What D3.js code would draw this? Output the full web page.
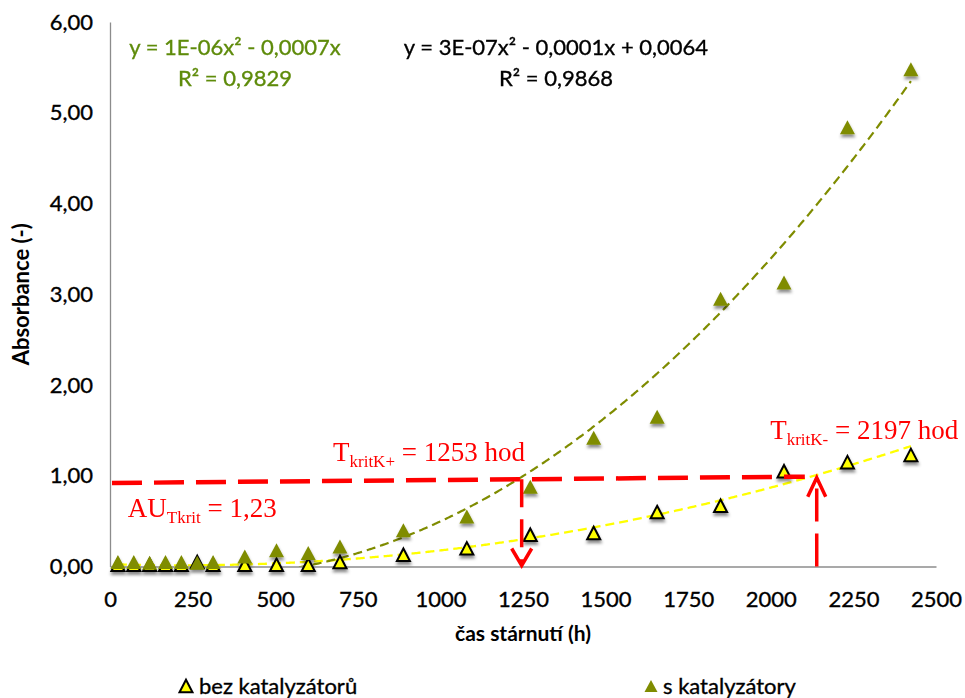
<!DOCTYPE html>
<html>
<head>
<meta charset="utf-8">
<script src="https://cdn.jsdelivr.net/npm/d3@7/dist/d3.min.js"></script>
<style>
  body { margin: 0; background: #fff; }
  svg text { font-family: Lato, "Open Sans", sans-serif; }
  svg text.sans { stroke-width: 0.35px; paint-order: stroke; }
</style>
</head>
<body>
<svg id="chart" width="965" height="698"></svg>
<script>
// Ageing time (h) and absorbance for the two sample sets
const hours = [24, 72, 120, 168, 216, 264, 312, 408, 504, 600, 696, 888, 1080, 1272, 1464, 1656, 1848, 2040, 2232, 2424];
const absBez = [0.02, 0.02, 0.02, 0.02, 0.02, 0.05, 0.02, 0.02, 0.02, 0.02, 0.05, 0.13, 0.20, 0.35, 0.37, 0.60, 0.67, 1.05, 1.15, 1.23];
const absS = [0.05, 0.05, 0.04, 0.05, 0.05, 0.04, 0.05, 0.11, 0.18, 0.15, 0.22, 0.40, 0.55, 0.88, 1.42, 1.65, 2.95, 3.13, 4.84, 5.48];
const seriesNames = ["bez katalyzátorů", "s katalyzátory"];

const xTicks = [0, 250, 500, 750, 1000, 1250, 1500, 1750, 2000, 2250, 2500];
const yTicks = [0, 1, 2, 3, 4, 5, 6];

// Trendline labels as printed on the chart
const eqS = ["y = 1E-06x² - 0,0007x", "R² = 0,9829"];
const eqBez = ["y = 3E-07x² - 0,0001x + 0,0064", "R² = 0,9868"];

// Critical-level annotation: dashed level line (start/end hours and absorbance), arrow times
const critLineHours = [6, 2103];
const critLineLevel = [0.92, 0.99];
const critArrowHours = [1246, 2139];
const critTexts = [
  { main: "T", sub: "kritK+", rest: " = 1253 hod", h: 675, v: 1.16 },
  { main: "T", sub: "kritK-", rest: " = 2197 hod", h: 1998, v: 1.40 },
  { main: "AU", sub: "Tkrit", rest: " = 1,23", h: 54, v: 0.55 }
];

const colBez = "#ffff00";
const colS = "#7f8c00";
const colEqS = "#5e8b0a";
const red = "#ff0000";
const axisGrey = "#8c8c8c";

const svg = d3.select("#chart");
const x = d3.scaleLinear().domain([0, 2500]).range([110, 936]);
const y = d3.scaleLinear().domain([0, 6]).range([566.5, 22]);

const loc = d3.formatLocale({ decimal: ",", thousands: "", grouping: [3], currency: ["", ""] });
const fmtY = loc.format(".2f");

// drop shadow for markers
const defs = svg.append("defs");
const f = defs.append("filter").attr("id", "shadow")
  .attr("x", "-50%").attr("y", "-50%").attr("width", "200%").attr("height", "220%");
f.append("feDropShadow").attr("dx", 0.5).attr("dy", 3).attr("stdDeviation", 1.6)
  .attr("flood-color", "#000").attr("flood-opacity", 0.45);
defs.append("clipPath").attr("id", "plotClip").append("rect")
  .attr("x", x(0)).attr("y", y(6)).attr("width", x(2500) - x(0)).attr("height", y(0) - y(6));

// axes
const yAxis = d3.axisLeft(y).tickValues(yTicks).tickSize(0).tickPadding(17).tickFormat(fmtY);
const xAxis = d3.axisBottom(x).tickValues(xTicks).tickSize(0).tickPadding(25).tickFormat(d3.format("d"));

const gy = svg.append("g").attr("transform", `translate(${x(0)},0)`).call(yAxis);
const gx = svg.append("g").attr("transform", `translate(0,${y(0)})`).call(xAxis);
[gx, gy].forEach(g => {
  g.select(".domain").attr("stroke", axisGrey).attr("stroke-width", 1.3);
  g.selectAll("text").attr("class", "sans").attr("font-size", 22)
    .attr("fill", "#000").attr("stroke", "#000").attr("font-family", "Lato");
});

// axis titles
svg.append("text")
  .attr("transform", `translate(29,${(y(0) + y(6)) / 2}) rotate(-90)`)
  .attr("text-anchor", "middle").attr("font-weight", "bold").attr("font-size", 22)
  .text("Absorbance (-)");
svg.append("text")
  .attr("x", 523).attr("y", 641)
  .attr("text-anchor", "middle").attr("font-weight", "bold").attr("font-size", 21)
  .text("čas stárnutí (h)");

// least-squares polynomial fit with the given powers of x
function polyFit(xs, ys, powers) {
  const n = powers.length;
  const A = powers.map(pi => powers.map(pj => d3.sum(xs, xv => Math.pow(xv / 1000, pi + pj))));
  const B = powers.map(pi => d3.sum(xs, (xv, k) => ys[k] * Math.pow(xv / 1000, pi)));
  for (let i = 0; i < n; i++) {
    let p = i;
    for (let r = i + 1; r < n; r++) if (Math.abs(A[r][i]) > Math.abs(A[p][i])) p = r;
    [A[i], A[p]] = [A[p], A[i]]; [B[i], B[p]] = [B[p], B[i]];
    for (let r = i + 1; r < n; r++) {
      const m = A[r][i] / A[i][i];
      for (let c = i; c < n; c++) A[r][c] -= m * A[i][c];
      B[r] -= m * B[i];
    }
  }
  const c = new Array(n).fill(0);
  for (let i = n - 1; i >= 0; i--) {
    let s = B[i];
    for (let j = i + 1; j < n; j++) s -= A[i][j] * c[j];
    c[i] = s / A[i][i];
  }
  return xv => d3.sum(powers, (p, i) => c[i] * Math.pow(xv / 1000, p));
}

const fitBez = polyFit(hours, absBez, [2, 1, 0]);
const fitS = polyFit(hours, absS, [2, 1]);
const hMin = d3.min(hours), hMax = d3.max(hours);
const trendX = d3.range(hMin, hMax + 1, 4);

const line = d3.line().x(d => x(d[0])).y(d => y(d[1]));
const trends = svg.append("g").attr("clip-path", "url(#plotClip)");
trends.append("path")
  .attr("d", line(trendX.map(h => [h, fitBez(h)])))
  .attr("fill", "none").attr("stroke", colBez).attr("stroke-width", 2.3).attr("stroke-dasharray", "9,5");
trends.append("path")
  .attr("d", line(trendX.map(h => [h, fitS(h)])))
  .attr("fill", "none").attr("stroke", colS).attr("stroke-width", 2.2).attr("stroke-dasharray", "9,5");

// triangle marker path (bounding box centred)
const tri = (w, h) => `M0,${-h / 2}L${w / 2},${h / 2}L${-w / 2},${h / 2}Z`;

const marks = svg.append("g").attr("filter", "url(#shadow)");
marks.selectAll(".bez").data(hours.map((h, i) => [h, absBez[i]])).join("path")
  .attr("class", "bez")
  .attr("transform", d => `translate(${x(d[0])},${y(d[1])})`)
  .attr("d", tri(13, 12.5))
  .attr("fill", colBez).attr("stroke", "#000").attr("stroke-width", 2).attr("stroke-linejoin", "miter");
marks.selectAll(".s").data(hours.map((h, i) => [h, absS[i]])).join("path")
  .attr("class", "s")
  .attr("transform", d => `translate(${x(d[0])},${y(d[1])})`)
  .attr("d", tri(15, 14))
  .attr("fill", colS);

// trendline equations
const eqG = svg.append("g").attr("font-size", 22).attr("text-anchor", "middle");
eqS.forEach((t, i) => eqG.append("text").attr("class", "sans").attr("x", 235).attr("y", 55 + i * 31)
  .attr("fill", colEqS).attr("stroke", colEqS).text(t));
eqBez.forEach((t, i) => eqG.append("text").attr("class", "sans").attr("x", 556).attr("y", 55 + i * 31)
  .attr("fill", "#000").attr("stroke", "#000").text(t));

// critical level line and arrows
const redG = svg.append("g");
redG.append("line")
  .attr("x1", x(critLineHours[0])).attr("y1", y(critLineLevel[0]))
  .attr("x2", x(critLineHours[1])).attr("y2", y(critLineLevel[1]))
  .attr("stroke", red).attr("stroke-width", 4.5).attr("stroke-dasharray", "30,12");
const levelAt = h => critLineLevel[0] + (critLineLevel[1] - critLineLevel[0]) *
  (h - critLineHours[0]) / (critLineHours[1] - critLineHours[0]);

// downward arrow
{
  const ax = x(critArrowHours[0]), top = y(levelAt(critArrowHours[0])), bot = y(0);
  redG.append("line").attr("x1", ax).attr("x2", ax).attr("y1", top).attr("y2", bot - 2)
    .attr("stroke", red).attr("stroke-width", 3.5).attr("stroke-dasharray", "28,12");
  redG.append("path").attr("d", `M${ax - 10},${bot - 18}L${ax},${bot - 1}L${ax + 10},${bot - 18}`)
    .attr("fill", "none").attr("stroke", red).attr("stroke-width", 3.5);
}
// upward arrow
{
  const ax = x(critArrowHours[1]), top = y(critLineLevel[1]), bot = y(0);
  redG.append("line").attr("x1", ax).attr("x2", ax).attr("y1", bot).attr("y2", top + 2)
    .attr("stroke", red).attr("stroke-width", 3.5).attr("stroke-dasharray", "33,12");
  redG.append("path").attr("d", `M${ax - 9},${top + 20}L${ax},${top + 1}L${ax + 9},${top + 20}`)
    .attr("fill", "none").attr("stroke", red).attr("stroke-width", 3.5);
}

// annotation texts
critTexts.forEach(t => {
  const tx = svg.append("text")
    .attr("x", x(t.h)).attr("y", y(t.v))
    .attr("fill", red).attr("font-size", 27)
    .style("font-family", "'Liberation Serif', 'Times New Roman', serif");
  tx.append("tspan").text(t.main);
  tx.append("tspan").attr("font-size", 17).attr("dy", 6).text(t.sub);
  tx.append("tspan").attr("dy", -6).text(t.rest);
});

// legend
const legend = [
  { name: seriesNames[0], mx: 186, tx: 199, fill: colBez, stroke: "#000", w: 13, h: 12.5 },
  { name: seriesNames[1], mx: 651, tx: 663, fill: colS, stroke: "none", w: 13, h: 12 }
];
const lg = svg.append("g");
legend.forEach(l => {
  lg.append("path").attr("transform", `translate(${l.mx},686)`).attr("d", tri(l.w, l.h))
    .attr("fill", l.fill).attr("stroke", l.stroke).attr("stroke-width", 2);
  lg.append("text").attr("class", "sans").attr("x", l.tx).attr("y", 694).attr("font-size", 22)
    .attr("fill", "#000").attr("stroke", "#000").text(l.name);
});
</script>
</body>
</html>
